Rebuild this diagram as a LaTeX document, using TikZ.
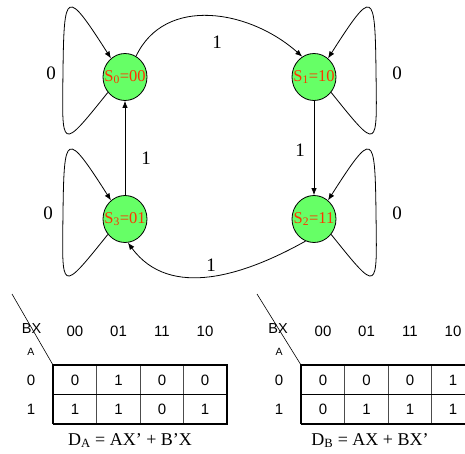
\documentclass[tikz,border=0pt]{standalone}
\usepackage{fontspec}
\setmainfont{Liberation Serif}
\setsansfont{Liberation Sans}
\usetikzlibrary{arrows.meta,shapes.geometric}
\definecolor{stategreen}{RGB}{102,255,102}
\definecolor{statered}{RGB}{255,51,0}
\tikzset{
  state/.style={ellipse,draw,fill=stategreen,minimum width=44pt,minimum height=47pt,
    inner sep=0pt,text=statered,font=\fontsize{16.5}{16.5}\selectfont},
  lbl/.style={font=\fontsize{19}{19}\selectfont},
  kval/.style={font=\sffamily\fontsize{15}{15}\selectfont},
  khead/.style={font=\sffamily\fontsize{14.5}{14.5}\selectfont},
  ksmall/.style={font=\sffamily\fontsize{10.5}{10.5}\selectfont},
  keq/.style={anchor=base,font=\fontsize{18}{18}\selectfont},
  inner/.style={line width=0.6pt,black!70},
}
\begin{document}
\begin{tikzpicture}[x=1pt,y=1pt,>={Latex[length=7pt,width=5.5pt]},line width=0.8pt]
  \useasboundingbox (0,0) rectangle (465,453);
  \draw
    (125,376) node[state] (s0){\makebox[0pt]{S\textsubscript{0}=00}}
    (314,376) node[state] (s1){\makebox[0pt]{S\textsubscript{1}=10}}
    (314,234) node[state] (s2){\makebox[0pt]{S\textsubscript{2}=11}}
    (125,234) node[state] (s3){\makebox[0pt]{S\textsubscript{3}=01}};
  \coordinate (m0) at (63,382);
  \coordinate (m1) at (376,382);
  \coordinate (m2) at (376,240);
  \coordinate (m3) at (63,240);
  \begin{scope}[->]
    \draw (s0.222) .. controls (60,301) and (62,303) .. (m0) .. controls (64,463) and (66,465) .. (s0.127);
    \draw (s1.318) .. controls (379,301) and (377,303) .. (m1) .. controls (375,463) and (373,465) .. (s1.53);
    \draw (s2.318) .. controls (379,159) and (377,161) .. (m2) .. controls (375,321) and (373,323) .. (s2.53);
    \draw (s3.222) .. controls (60,159) and (62,161) .. (m3) .. controls (64,321) and (66,323) .. (s3.127);
    \draw (s0.62) .. controls (165,458) and (250,443) .. (s1.120);
    \draw (s1) to (s2);
    \draw (s2.249) .. controls (245,178) and (170,153) .. (s3.277);
    \draw (s3) to (s0);
  \end{scope}
  \draw
    (51,380) node[lbl] (l00){0}
    (397,380) node[lbl] (l11){0}
    (397,240) node[lbl] (l22){0}
    (48,240) node[lbl] (l33){0}
    (217,411) node[lbl] (l01){1}
    (300,303) node[lbl] (l12){1}
    (211,188) node[lbl] (l23){1}
    (146,295) node[lbl] (l30){1};

  % map for D_A
  \coordinate (da) at (12,159);
  \coordinate (ta) at (53,88);
  \draw[line width=0.6pt] (da) -- (ta);
  \draw[inner] (96.5,29) -- (96.5,88) (140,29) -- (140,88) (183.5,29) -- (183.5,88);
  \draw[line width=1pt] (53,59) -- (227,59);
  \draw[line width=1.3pt] (53,29) -- (ta) -- (227,88);
  \draw[line width=2.6pt] (227,89) -- (227,29) -- (53,29);
  \draw
    (31.5,124) node[khead] (abx){BX}
    (31,101) node[ksmall] (aa){A}
    (75,121.5) node[kval] (ac0){00}
    (118.5,121.5) node[kval] (ac1){01}
    (162,121.5) node[kval] (ac2){11}
    (205,121.5) node[kval] (ac3){10}
    (31,73) node[kval] (ar0){0}
    (31,44) node[kval] (ar1){1}
    (75,73) node[kval] (a00){0}
    (118.5,73) node[kval] (a01){1}
    (162,73) node[kval] (a02){0}
    (205,73) node[kval] (a03){0}
    (75,44) node[kval] (a10){1}
    (118.5,44) node[kval] (a11){1}
    (162,44) node[kval] (a12){0}
    (205,44) node[kval] (a13){1};
  \node[keq] (eqa) at (130,8) {D\textsubscript{A} = AX’ + B’X};

  % map for D_B
  \begin{scope}[xshift=248pt]
    \coordinate (db) at (9,159);
    \coordinate (tb) at (53,88);
    \draw[line width=0.6pt] (db) -- (tb);
    \draw[inner] (96.5,29) -- (96.5,88) (140,29) -- (140,88) (183.5,29) -- (183.5,88);
    \draw[line width=1pt] (53,59) -- (227,59);
    \draw[line width=1.3pt] (53,29) -- (tb) -- (227,88);
    \draw[line width=2.6pt] (227,89) -- (227,29) -- (53,29);
    \draw
      (30,124) node[khead] (bbx){BX}
      (31,101) node[ksmall] (ba){A}
      (75,121.5) node[kval] (bc0){00}
      (118.5,121.5) node[kval] (bc1){01}
      (162,121.5) node[kval] (bc2){11}
      (205,121.5) node[kval] (bc3){10}
      (31,73) node[kval] (br0){0}
      (31,44) node[kval] (br1){1}
      (75,73) node[kval] (b00){0}
      (118.5,73) node[kval] (b01){0}
      (162,73) node[kval] (b02){0}
      (205,73) node[kval] (b03){1}
      (75,44) node[kval] (b10){0}
      (118.5,44) node[kval] (b11){1}
      (162,44) node[kval] (b12){1}
      (205,44) node[kval] (b13){1};
    \node[keq] (eqb) at (122,8) {D\textsubscript{B} = AX + BX’};
  \end{scope}
\end{tikzpicture}
\end{document}
